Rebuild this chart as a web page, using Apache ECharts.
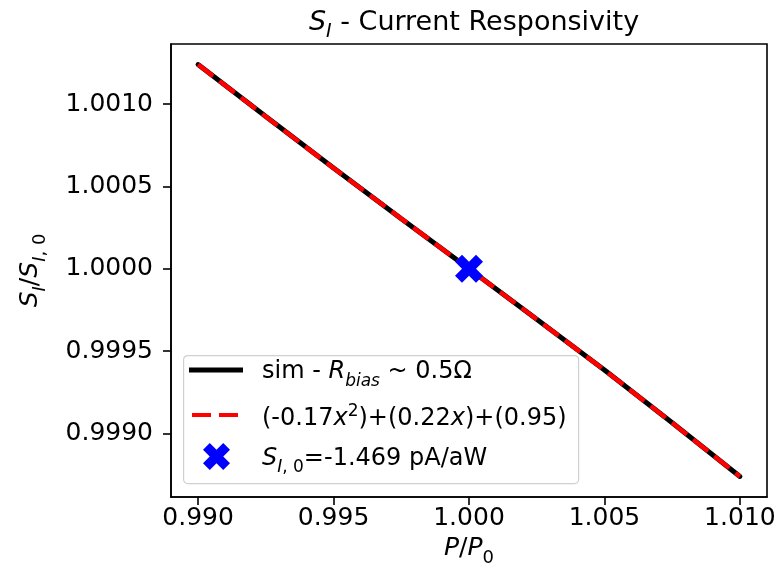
<!DOCTYPE html>
<html><head><meta charset="utf-8">
<script src="https://cdn.jsdelivr.net/npm/echarts@6/dist/echarts.min.js"></script>
<style>html,body{margin:0;padding:0;background:#fff}#c{width:783px;height:566px}</style>
</head><body><div id="c"></div>
<script>
// Data
const xVals   = [0.990, 0.9925, 0.995, 0.9975, 1.000, 1.0025, 1.005, 1.0075, 1.010];
const simVals = [1.001241, 1.000925, 1.000612, 1.000305, 1.0000, 0.999694, 0.999385, 0.999065, 0.998739];
const fitVals = [1.001241, 1.000925, 1.000612, 1.000305, 1.0000, 0.999694, 0.999385, 0.999065, 0.998739];
const refPoint = [1.000, 1.0000];
const xTicks = [0.990, 0.995, 1.000, 1.005, 1.010];
const yTicks = [0.9990, 0.9995, 1.0000, 1.0005, 1.0010];

const FONT = 'DejaVu Sans';
const xPath = 'path://M6,0 L8,2 L6,4 L8,6 L6,8 L4,6 L2,8 L0,6 L2,4 L0,2 L2,0 L4,2 Z';
const dashPath = 'path://M0,0 H19 V4 H0 Z M27,0 H46 V4 H27 Z';

const chart = echarts.init(document.getElementById('c'), null, {renderer:'canvas'});
const rich = (fs) => ({
  n:  {fontFamily: FONT, fontSize: fs, color:'#000', padding:[0,0,6,0], verticalAlign:'bottom'},
  i:  {fontFamily: FONT, fontSize: fs, color:'#000', fontStyle:'italic', padding:[0,0,6,0], verticalAlign:'bottom'},
  si: {fontFamily: FONT, fontSize: Math.round(fs*0.7), color:'#000', fontStyle:'italic', verticalAlign:'bottom'},
  s:  {fontFamily: FONT, fontSize: Math.round(fs*0.7), color:'#000', verticalAlign:'bottom'},
  sup:{fontFamily: FONT, fontSize: Math.round(fs*0.7), color:'#000', verticalAlign:'bottom', padding:[0,0,17,0]}
});
const legendCommon = {orient:'vertical', padding:0, itemGap:0, selectedMode:false};

chart.setOption({
  animation: false,
  title: {
    text: '{i|S}{si|I}{n| - Current Responsivity}',
    left: 469, top: 4, textAlign: 'center',
    textStyle: {fontWeight:'normal', rich: rich(27)}
  },
  grid: {left: 171, right: 16, top: 44, bottom: 69, show: true, borderColor: '#000', borderWidth: 1.6,
         containLabel: false, outerBoundsMode: 'none'},
  graphic: [{
    type:'rect', left:183, top:355, z: 10,
    shape:{width:395, height:128, r:4},
    style:{fill:'rgba(255,255,255,0.85)', stroke:'#d0d0d0', lineWidth:1.2}
  }],
  xAxis: {
    type: 'value', min: 0.989, max: 1.011,
    name: '{i|P}{n|/}{i|P}{s|0}', nameLocation: 'middle', nameGap: 39,
    nameTextStyle: {rich: rich(25)},
    axisLine: {show: true, lineStyle: {color:'#000', width:1.6}},
    axisTick: {show: true, inside: false, length: 8, lineStyle:{color:'#000', width:1.6}, customValues: xTicks},
    axisLabel: {customValues: xTicks, formatter: v => v.toFixed(3), fontFamily: FONT, fontSize: 25, color:'#000', margin: 9},
    splitLine: {show: false}
  },
  yAxis: {
    type: 'value', min: 0.998614, max: 1.001366,
    name: '{i|S}{si|I}{n|/}{i|S}{si|I}{s|, 0}', nameLocation: 'middle', nameGap: 122, nameRotate: 90,
    nameTextStyle: {rich: rich(25)},
    axisLine: {show: true, lineStyle: {color:'#000', width:1.6}},
    axisTick: {show: true, inside: false, length: 8, lineStyle:{color:'#000', width:1.6}, customValues: yTicks},
    axisLabel: {customValues: yTicks, formatter: v => v.toFixed(4), fontFamily: FONT, fontSize: 25, color:'#000', margin: 18},
    splitLine: {show: false}
  },
  legend: [
    Object.assign({}, legendCommon, {
      left: 189, top: 360, itemWidth: 54, itemHeight: 5, z: 11,
      data: [{name:'sim', icon:'rect'}],
      textStyle: {padding:[10,0,0,14], rich: rich(24)},
      formatter: () => '{n|sim - }{i|R}{si|bias}{n| ~ 0.5Ω}'
    }),
    Object.assign({}, legendCommon, {
      left: 192, top: 403, itemWidth: 46, itemHeight: 4, z: 11,
      data: [{name:'fit', icon: dashPath}],
      textStyle: {padding:[10,0,0,19], rich: rich(24)},
      formatter: () => '{n|(-0.17}{i|x}{sup|2}{n|)+(0.22}{i|x}{n|)+(0.95)}'
    }),
    Object.assign({}, legendCommon, {
      left: 203, top: 443, itemWidth: 27, itemHeight: 27, z: 11,
      data: [{name:'ref', icon: xPath}],
      textStyle: {padding:[10,0,0,27], rich: rich(24)},
      formatter: () => '{i|S}{si|I}{s|, 0}{n|=-1.469 pA/aW}'
    })
  ],
  series: [
    {name:'sim', type:'line', data: xVals.map((x,k)=>[x, simVals[k]]), showSymbol:false, symbol:'none',
     lineStyle:{color:'#000', width:5, cap:'round'}, itemStyle:{color:'#000'}, z:2},
    {name:'fit', type:'line', data: xVals.map((x,k)=>[x, fitVals[k]]), showSymbol:false, symbol:'none',
     lineStyle:{color:'#ff0000', width:4.5, type:[19,8]}, itemStyle:{color:'#ff0000'}, z:3},
    {name:'ref', type:'scatter', data:[refPoint], symbol: xPath, symbolSize: 28,
     itemStyle:{color:'#0000ff', opacity:1}, z:4}
  ]
});
</script></body></html>
